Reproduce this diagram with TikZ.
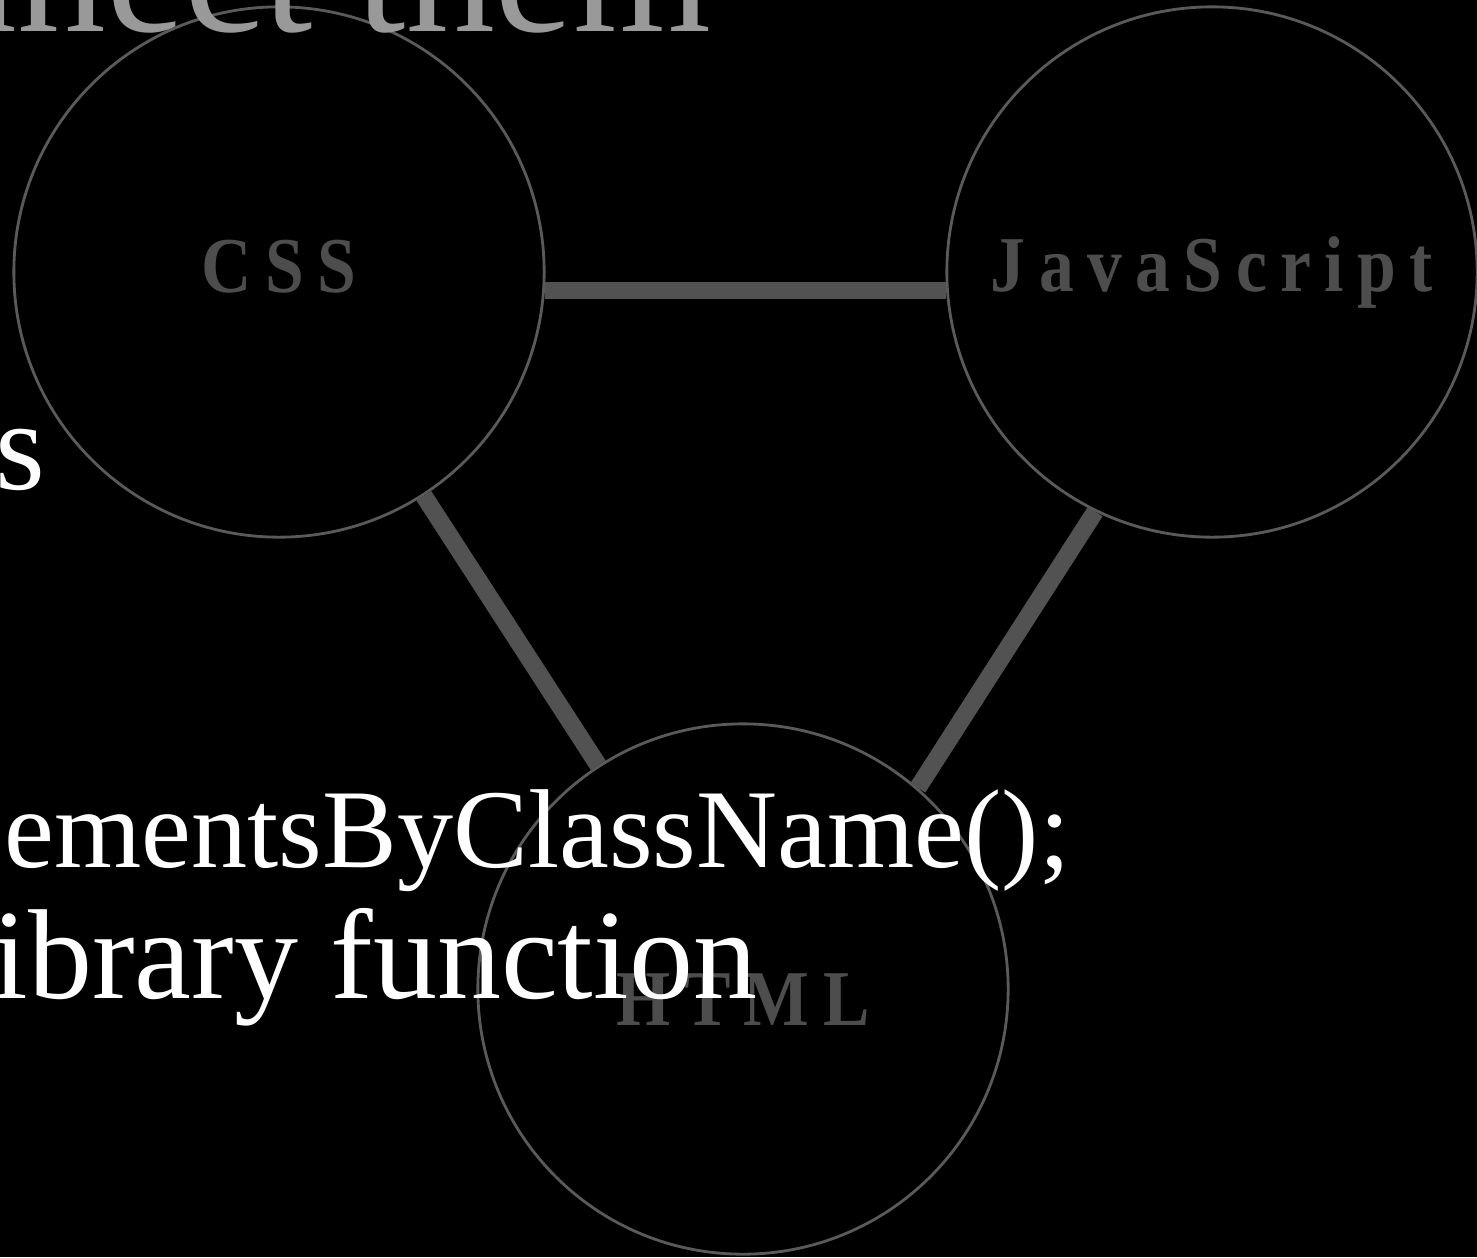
\documentclass[tikz,border=0pt]{standalone}
\usepackage{fontspec}
\setmainfont{Liberation Serif}
\newfontfamily\labelfont{Liberation Serif}[FakeStretch=0.88,LetterSpace=17]
\definecolor{ringgray}{HTML}{5A5A5A}
\definecolor{linkgray}{HTML}{525252}
\definecolor{labelgray}{HTML}{4D4D4D}
\definecolor{headgray}{HTML}{999999}
\begin{document}
\begin{tikzpicture}[x=0.01cm,y=-0.01cm,
	ring/.style={circle,draw=ringgray,line width=0.8pt,minimum size=5.3cm,inner sep=0pt,text=labelgray,font=\labelfont\bfseries\fontsize{22.5}{27}\selectfont},
	link/.style={draw=linkgray,line width=5pt},
	slide/.style={text=white,inner sep=0pt,font=\fontsize{36.4}{44}\selectfont}]
	\useasboundingbox (0,0) rectangle (1477,1257);
	\fill[black] (0,0) rectangle (1477,1257);
	\clip (0,0) rectangle (1477,1257);
	% the three circles
	\node[ring,text depth=0.11cm] (css) at (279,272) {CSS};
	\node[ring] (js) at (1212,272) {JavaScript};
	\node[ring,text height=0.72cm] (html) at (743,989) {HTML};
	\draw[link] (css.-4) -- (js.184);
	\draw[link] (css) -- (html);
	\draw[link] (js.244) -- (html.49);
	% slide text, cut at the edges
	\node[slide,text=headgray,anchor=base east,font=\fontsize{50.4}{60}\selectfont] (head) at (712,31) {nnect them};
	\node[slide,anchor=base west] (item) at (-5,489) {s};
	\node[slide,anchor=base east,font=\fontsize{31.9}{38}\selectfont] (code) at (1071,867) {ementsByClassName();};
	\node[slide,anchor=base west] (note) at (-8,998) {ibrary function};
\end{tikzpicture}
\end{document}
